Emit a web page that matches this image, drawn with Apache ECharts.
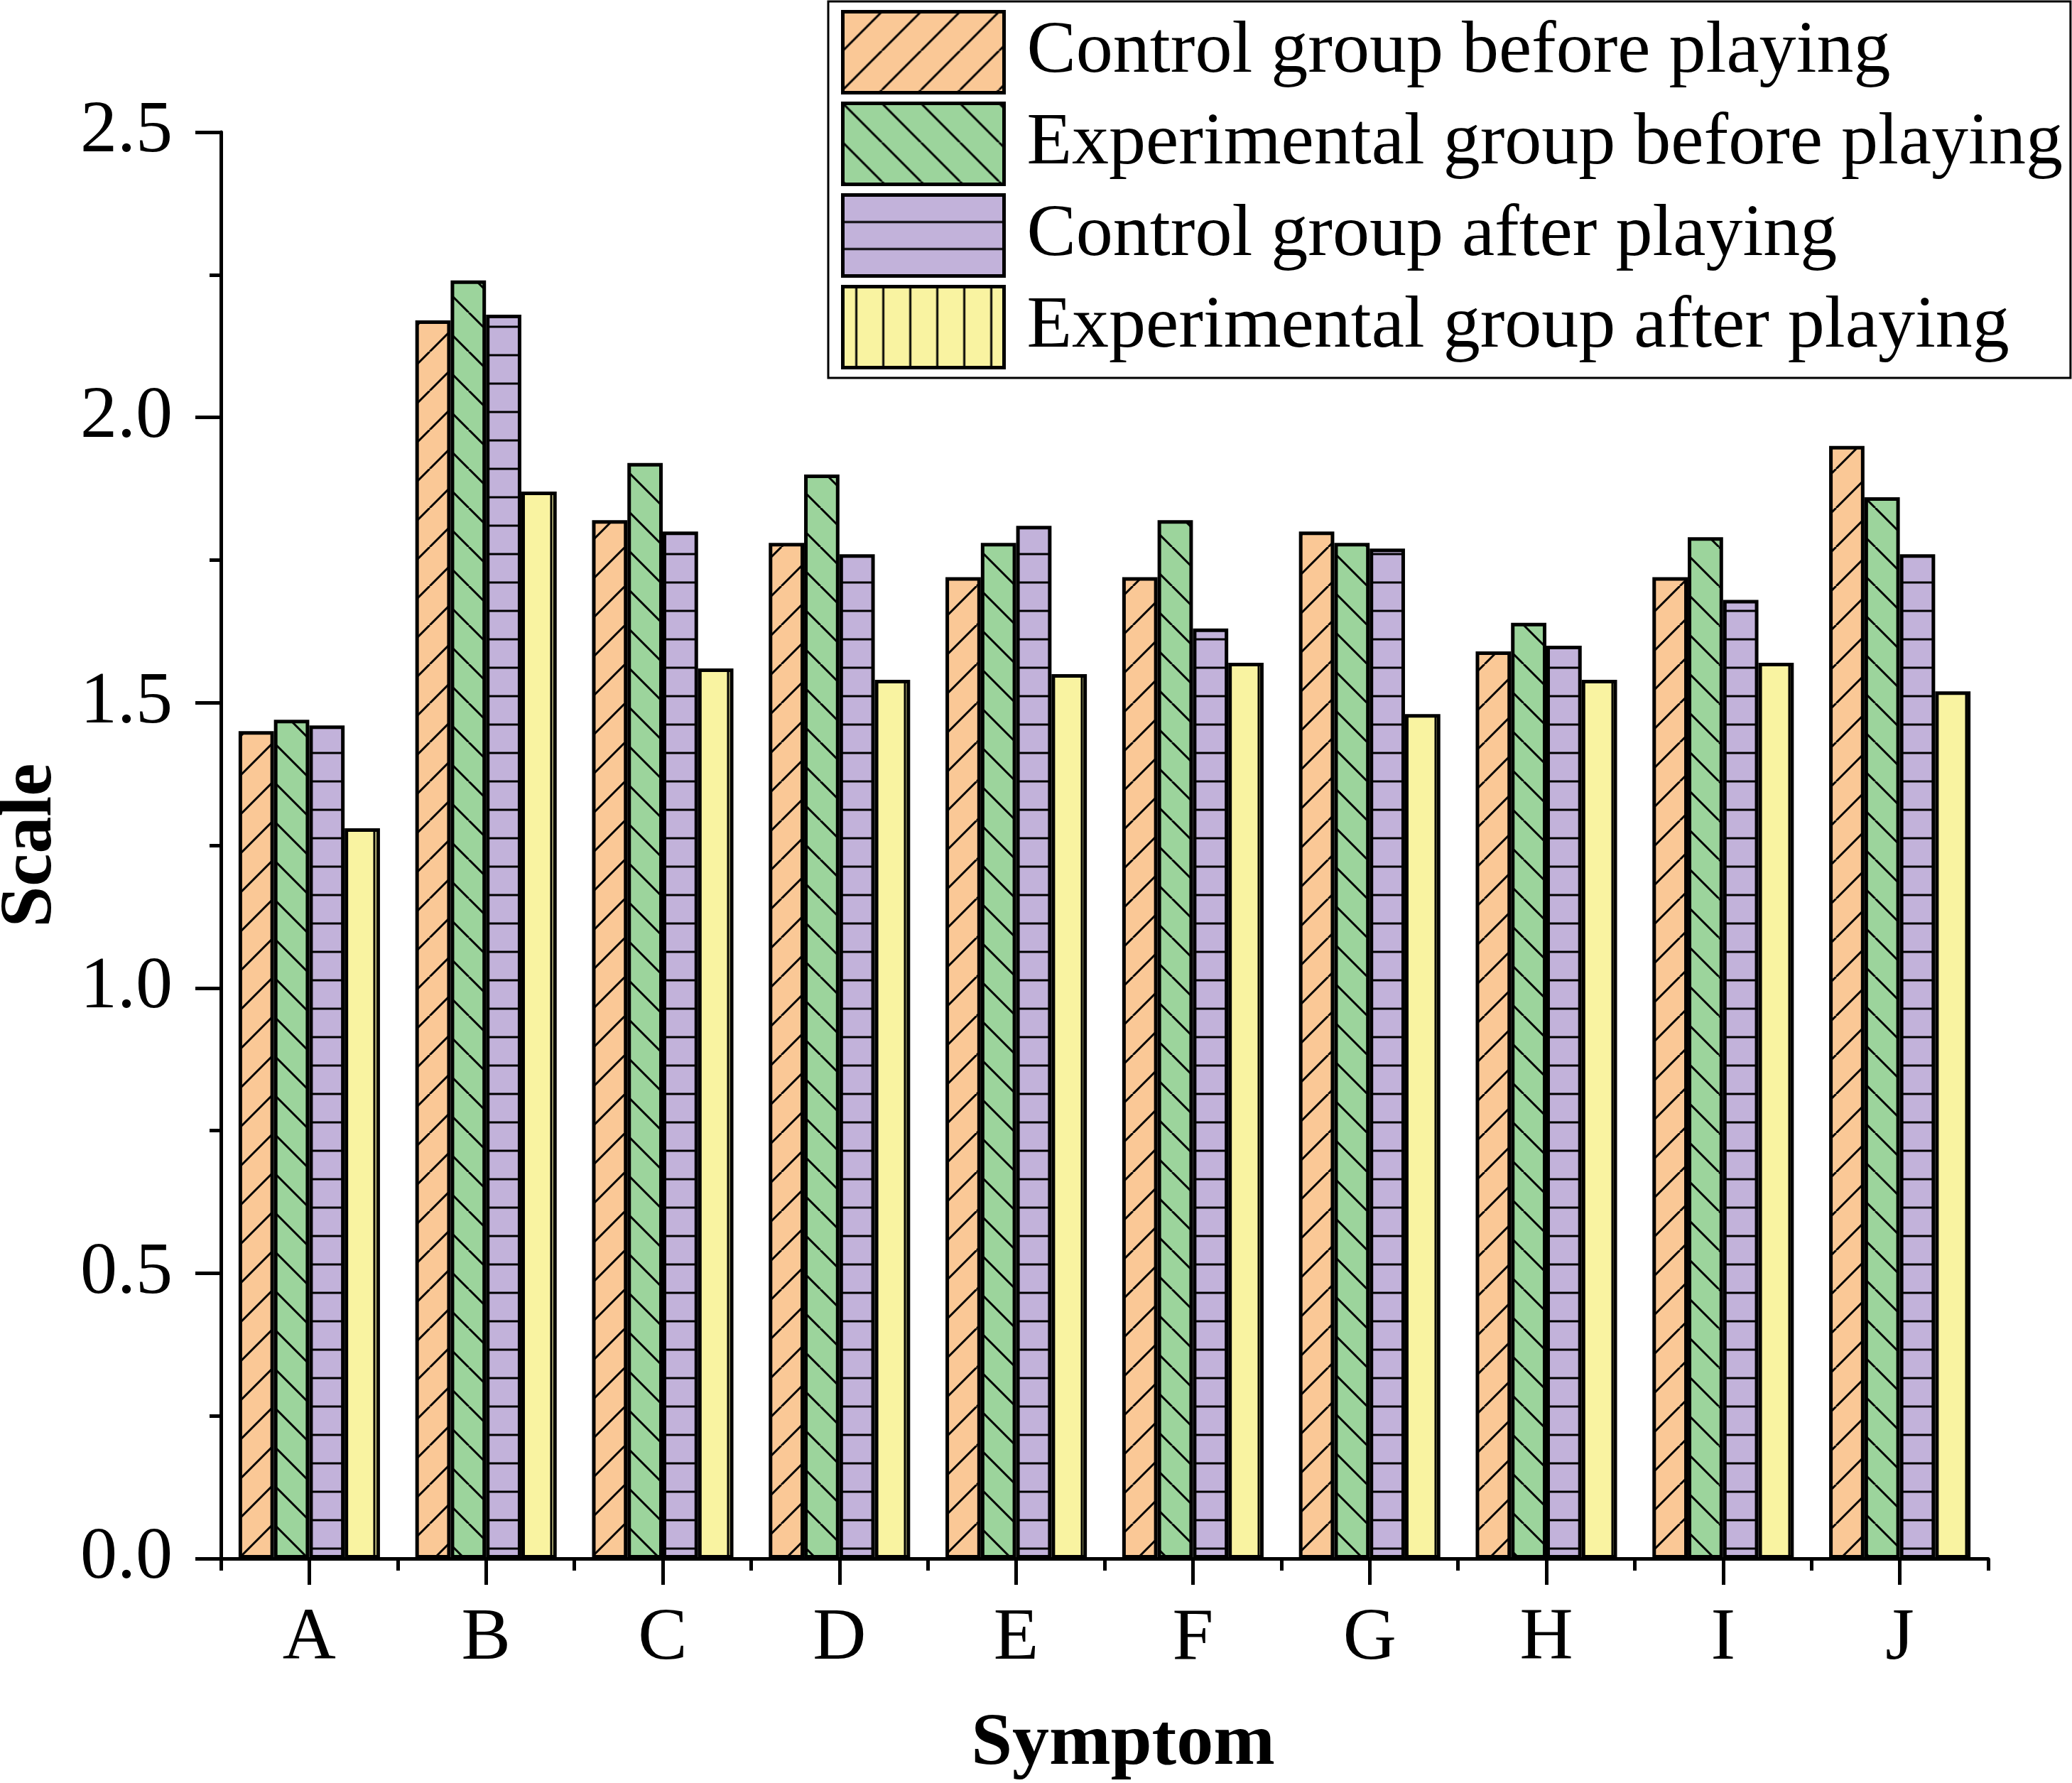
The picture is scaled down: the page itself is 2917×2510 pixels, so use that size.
<!DOCTYPE html>
<html>
<head>
<meta charset="utf-8">
<script src="https://cdn.jsdelivr.net/npm/echarts@6/dist/echarts.min.js"></script>
<style>
  html, body { margin: 0; padding: 0; background: #fff; }
  #chart { width: 2917px; height: 2510px; }
</style>
</head>
<body>
<div id="chart"></div>
<script>
// data
var symptoms = ['A', 'B', 'C', 'D', 'E', 'F', 'G', 'H', 'I', 'J'];
var controlBefore = [1.45, 2.17, 1.82, 1.78, 1.72, 1.72, 1.80, 1.59, 1.72, 1.95];
var experimentalBefore = [1.47, 2.24, 1.92, 1.90, 1.78, 1.82, 1.78, 1.64, 1.79, 1.86];
var controlAfter = [1.46, 2.18, 1.80, 1.76, 1.81, 1.63, 1.77, 1.60, 1.68, 1.76];
var experimentalAfter = [1.28, 1.87, 1.56, 1.54, 1.55, 1.57, 1.48, 1.54, 1.57, 1.52];
var seriesNames = [
    'Control group before playing',
    'Experimental group before playing',
    'Control group after playing',
    'Experimental group after playing'
];
var yTicks = [0, 0.5, 1.0, 1.5, 2.0, 2.5];

var FONT = 'Liberation Serif';

// hatch fills drawn on small canvases
function pattern(w, h, bg, draw) {
    var c = document.createElement('canvas');
    c.width = w;
    c.height = h;
    var ctx = c.getContext('2d');
    ctx.fillStyle = bg;
    ctx.fillRect(0, 0, w, h);
    ctx.strokeStyle = '#000';
    ctx.lineWidth = 3;
    ctx.beginPath();
    draw(ctx, w, h);
    ctx.stroke();
    return {image: c, repeat: 'repeat'};
}
function slash(ctx, w, h) {
    for (var k = -1; k <= 1; k++) {
        ctx.moveTo(k * w, h);
        ctx.lineTo(k * w + w, 0);
    }
}
function backslash(ctx, w, h) {
    for (var k = -1; k <= 1; k++) {
        ctx.moveTo(k * w, 0);
        ctx.lineTo(k * w + w, h);
    }
}
function horiz(ctx, w, h) {
    ctx.moveTo(0, h / 2);
    ctx.lineTo(w, h / 2);
}
function horizEdge(ctx, w, h) {
    ctx.moveTo(0, 0);
    ctx.lineTo(w, 0);
    ctx.moveTo(0, h);
    ctx.lineTo(w, h);
}
function vertAt(x) {
    return function (ctx, w, h) {
        ctx.moveTo(x, 0);
        ctx.lineTo(x, h);
    };
}

var orange = '#FAC896', green = '#9CD49C', purple = '#C2B2DA', yellow = '#F9F3A1';
var fills = [
    pattern(55, 55, orange, slash),
    pattern(55, 55, green, backslash),
    pattern(10, 40, purple, horiz),
    pattern(249, 10, yellow, vertAt(29))
];
var legendFills = [
    fills[0],
    fills[1],
    pattern(10, 38, purple, horizEdge),
    pattern(38, 10, yellow, vertAt(19))
];
var values = [controlBefore, experimentalBefore, controlAfter, experimentalAfter];

var chart = echarts.init(document.getElementById('chart'));

var axisLine = {show: true, lineStyle: {color: '#000', width: 5}};

chart.setOption({
    animation: false,
    backgroundColor: '#fff',
    grid: {left: 311, right: 118, top: 186, bottom: 316, containLabel: false, outerBoundsMode: 'none'},
    legend: {
        orient: 'vertical',
        left: 1166,
        top: 2,
        padding: [12, 11, 12, 18],
        itemWidth: 227,
        itemHeight: 114,
        itemGap: 10,
        icon: 'rect',
        borderColor: '#000',
        borderWidth: 3,
        backgroundColor: '#fff',
        textStyle: {fontFamily: FONT, fontSize: 104, color: '#000', lineHeight: 114, padding: [0, 0, 0, 27]},
        data: seriesNames.map(function (n, i) {
            return {name: n, itemStyle: {color: legendFills[i], borderColor: '#000', borderWidth: 5}};
        })
    },
    xAxis: [{
        type: 'category',
        data: symptoms,
        position: 'bottom',
        offset: 0,
        name: 'Symptom',
        nameLocation: 'middle',
        nameGap: 210,
        nameTextStyle: {fontFamily: FONT, fontSize: 104, fontWeight: 'bold', color: '#000', padding: [0, 0, 0, 52]},
        axisLine: axisLine,
        axisTick: {show: true, alignWithLabel: false, length: 17, lineStyle: {color: '#000', width: 5}},
        axisLabel: {fontFamily: FONT, fontSize: 104, color: '#000', margin: 62},
        splitLine: {show: false}
    }, {
        type: 'category',
        data: symptoms,
        position: 'bottom',
        offset: 0,
        axisLine: {show: false},
        axisTick: {show: true, alignWithLabel: true, length: 37, lineStyle: {color: '#000', width: 5}},
        axisLabel: {show: false},
        splitLine: {show: false}
    }],
    yAxis: {
        type: 'value',
        min: yTicks[0],
        max: yTicks[yTicks.length - 1],
        interval: 0.5,
        name: 'Scale',
        nameLocation: 'middle',
        nameGap: 215,
        nameTextStyle: {fontFamily: FONT, fontSize: 104, fontWeight: 'bold', color: '#000'},
        axisLine: axisLine,
        axisTick: {show: true, inside: false, length: 36, lineStyle: {color: '#000', width: 5}},
        minorTick: {show: true, splitNumber: 2, length: 16, lineStyle: {color: '#000', width: 5}},
        axisLabel: {
            fontFamily: FONT, fontSize: 104, color: '#000', margin: 68,
            formatter: function (v) { return v.toFixed(1); }
        },
        splitLine: {show: false},
        minorSplitLine: {show: false}
    },
    series: seriesNames.map(function (n, i) {
        return {
            name: n,
            type: 'bar',
            xAxisIndex: 0,
            data: values[i],
            barGap: '0%',
            barCategoryGap: '20%',
            itemStyle: {color: fills[i], borderColor: '#000', borderWidth: 5}
        };
    })
});
</script>
</body>
</html>
